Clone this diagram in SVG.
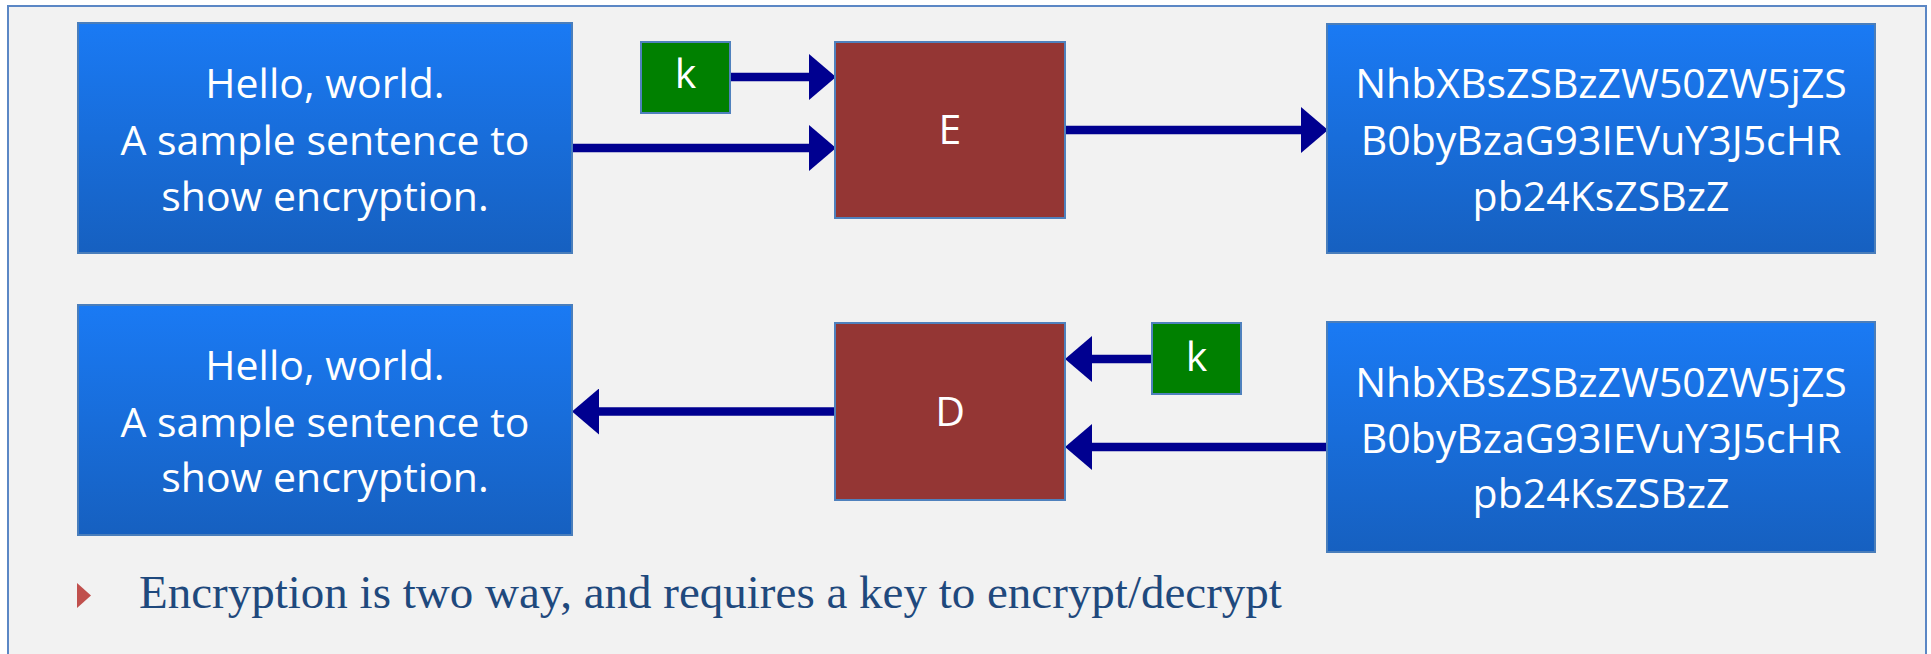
<svg xmlns="http://www.w3.org/2000/svg" width="1931" height="654" viewBox="0 0 1931 654">
  <defs>
    <linearGradient id="blueGrad" x1="0" y1="0" x2="0" y2="1">
      <stop offset="0" stop-color="#1a7af4"/>
      <stop offset="1" stop-color="#1660c0"/>
    </linearGradient>
    <marker id="head" viewBox="0 -23 27 46" refX="0" refY="0" markerWidth="27" markerHeight="46" markerUnits="userSpaceOnUse" orient="auto">
      <path d="M0,-23 L27,0 L0,23 Z" fill="#000090"/>
    </marker>
    <style>
      .blue { fill: url(#blueGrad); stroke: #4a7ebb; stroke-width: 2; }
      .proc { fill: #943634; stroke: #4f81bd; stroke-width: 2; }
      .key { fill: #008000; stroke: #4f81bd; stroke-width: 2; }
      .lbl { font-family: "Open Sans", "Noto Sans", sans-serif; font-size: 41px; fill: #ffffff; text-anchor: middle; }
      .conn { stroke: #000090; stroke-width: 8.5; fill: none; marker-end: url(#head); }
      .note { font-family: "Liberation Serif", "Times New Roman", serif; font-size: 47px; fill: #1f497d; }
    </style>
  </defs>

  <rect x="0" y="0" width="1931" height="654" fill="#ffffff"/>
  <rect id="frame" x="8" y="6" width="1918" height="660" fill="#f2f2f2" stroke="#5b87c5" stroke-width="2"/>

  <g id="connectors">
    <line class="conn" x1="730" y1="77" x2="809" y2="77"/>
    <line class="conn" x1="572" y1="148" x2="809" y2="148"/>
    <line class="conn" x1="1065" y1="130" x2="1301" y2="130"/>
    <line class="conn" x1="1152" y1="359" x2="1092" y2="359"/>
    <line class="conn" x1="1327" y1="447" x2="1092" y2="447"/>
    <line class="conn" x1="835" y1="411.5" x2="599" y2="411.5"/>
  </g>

  <g id="plain-top">
    <rect class="blue" x="78" y="23" width="494" height="230"/>
    <text class="lbl" x="325" y="98">Hello, world.</text>
    <text class="lbl" x="325" y="155">A sample sentence to</text>
    <text class="lbl" x="325" y="211">show encryption.</text>
  </g>

  <g id="key-top">
    <rect class="key" x="641" y="42" width="89" height="71"/>
    <text class="lbl" x="685.5" y="88">k</text>
  </g>

  <g id="encrypt">
    <rect class="proc" x="835" y="42" width="230" height="176"/>
    <text class="lbl" x="950" y="144">E</text>
  </g>

  <g id="cipher-top">
    <rect class="blue" x="1327" y="24" width="548" height="229"/>
    <text class="lbl" x="1601" y="98">NhbXBsZSBzZW50ZW5jZS</text>
    <text class="lbl" x="1601" y="155">B0byBzaG93IEVuY3J5cHR</text>
    <text class="lbl" x="1601" y="211">pb24KsZSBzZ</text>
  </g>

  <g id="plain-bottom">
    <rect class="blue" x="78" y="305" width="494" height="230"/>
    <text class="lbl" x="325" y="380">Hello, world.</text>
    <text class="lbl" x="325" y="437">A sample sentence to</text>
    <text class="lbl" x="325" y="492">show encryption.</text>
  </g>

  <g id="decrypt">
    <rect class="proc" x="835" y="323" width="230" height="177"/>
    <text class="lbl" x="950" y="426">D</text>
  </g>

  <g id="key-bottom">
    <rect class="key" x="1152" y="323" width="89" height="71"/>
    <text class="lbl" x="1196.5" y="371">k</text>
  </g>

  <g id="cipher-bottom">
    <rect class="blue" x="1327" y="322" width="548" height="230"/>
    <text class="lbl" x="1601" y="397">NhbXBsZSBzZW50ZW5jZS</text>
    <text class="lbl" x="1601" y="453">B0byBzaG93IEVuY3J5cHR</text>
    <text class="lbl" x="1601" y="508">pb24KsZSBzZ</text>
  </g>

  <g id="note">
    <polygon points="77,583 91,595.5 77,608" fill="#c0504d"/>
    <text class="note" x="139" y="608">Encryption is two way, and requires a key to encrypt/decrypt</text>
  </g>
</svg>
